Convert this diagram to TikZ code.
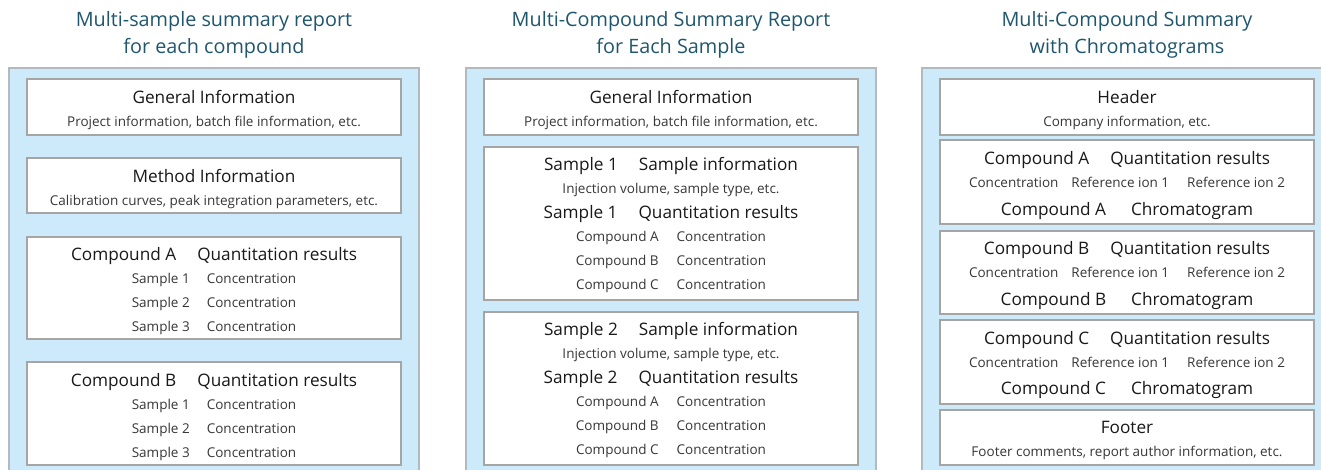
\documentclass[tikz,border=0pt]{standalone}
\usepackage{fontspec}
\setmainfont{Open Sans}
\definecolor{bluefill}{RGB}{205,234,250}
\definecolor{outerline}{RGB}{178,186,192}
\definecolor{innerline}{RGB}{165,165,165}
\definecolor{titlecol}{RGB}{31,86,110}
\definecolor{headcol}{RGB}{25,25,25}
\definecolor{subcol}{RGB}{55,55,55}
\begin{document}
\begin{tikzpicture}[x=1pt,y=-1pt,
  obox/.style={draw=outerline,fill=bluefill,line width=1.5pt,minimum width=410pt,minimum height=412pt,inner sep=0pt},
  ibox/.style={draw=innerline,fill=white,line width=1.2pt,minimum width=374pt,inner sep=0pt},
  txt/.style={inner sep=0pt,text height=0.72em,text depth=0pt,yshift=-2.5pt},
  ttl/.style={txt,text=titlecol,font=\fontsize{19.8}{22}\selectfont},
  head/.style={txt,text=headcol,font=\fontsize{17.2}{20}\selectfont},
  sub/.style={txt,text=subcol,font=\fontsize{13.5}{16}\selectfont}]
\useasboundingbox (0,0) rectangle (1321,469);
\clip (0,0) rectangle (1321,469);
% outer panels
\node[obox] (c1) at (214,274) {};
\node[obox] (c2) at (671,274) {};
\node[obox] (c3) at (1127,274) {};
% titles
\node[ttl] (t1a) at (214,20) {Multi-sample summary report};
\node[ttl] (t1b) at (214,47) {for each compound};
\node[ttl] (t2a) at (671,20) {Multi-Compound Summary Report};
\node[ttl] (t2b) at (671,47) {for Each Sample};
\node[ttl] (t3a) at (1127,20) {Multi-Compound Summary};
\node[ttl] (t3b) at (1127,47) {with Chromatograms};
% ---------- column 1
\node[ibox,minimum height=56pt] (a1) at (214,107) {};
\node[head] (a1h) at (214,97) {General Information};
\node[sub] (a1s) at (214,120) {Project information, batch file information, etc.};
\node[ibox,minimum height=55pt] (a2) at (214,185.5) {};
\node[head] (a2h) at (214,176) {Method Information};
\node[sub] (a2s) at (214,199) {Calibration curves, peak integration parameters, etc.};
\node[ibox,minimum height=102pt] (a3) at (214,288) {};
\node[head] (a3h) at (214,254) {Compound A\hspace{21pt}Quantitation results};
\node[sub] (a3s1) at (214,277) {Sample 1\hspace{17pt}Concentration};
\node[sub] (a3s2) at (214,301) {Sample 2\hspace{17pt}Concentration};
\node[sub] (a3s3) at (214,325) {Sample 3\hspace{17pt}Concentration};
\node[ibox,minimum height=103pt] (a4) at (214,413.5) {};
\node[head] (a4h) at (214,380) {Compound B\hspace{21pt}Quantitation results};
\node[sub] (a4s1) at (214,403) {Sample 1\hspace{17pt}Concentration};
\node[sub] (a4s2) at (214,427) {Sample 2\hspace{17pt}Concentration};
\node[sub] (a4s3) at (214,451) {Sample 3\hspace{17pt}Concentration};
% ---------- column 2
\node[ibox,minimum height=56pt] (b1) at (671,107) {};
\node[head] (b1h) at (671,97) {General Information};
\node[sub] (b1s) at (671,120) {Project information, batch file information, etc.};
\node[ibox,minimum height=153pt] (b2) at (671,223.5) {};
\node[head] (b2h) at (671,164) {Sample 1\hspace{21pt}Sample information};
\node[sub] (b2s) at (671,187) {Injection volume, sample type, etc.};
\node[head] (b2q) at (671,212) {Sample 1\hspace{21pt}Quantitation results};
\node[sub] (b2c1) at (671,235) {Compound A\hspace{18pt}Concentration};
\node[sub] (b2c2) at (671,259) {Compound B\hspace{18pt}Concentration};
\node[sub] (b2c3) at (671,283) {Compound C\hspace{18pt}Concentration};
\node[ibox,minimum height=153pt] (b3) at (671,388.5) {};
\node[head] (b3h) at (671,329) {Sample 2\hspace{21pt}Sample information};
\node[sub] (b3s) at (671,352) {Injection volume, sample type, etc.};
\node[head] (b3q) at (671,377) {Sample 2\hspace{21pt}Quantitation results};
\node[sub] (b3c1) at (671,400) {Compound A\hspace{18pt}Concentration};
\node[sub] (b3c2) at (671,424) {Compound B\hspace{18pt}Concentration};
\node[sub] (b3c3) at (671,448) {Compound C\hspace{18pt}Concentration};
% ---------- column 3
\node[ibox,minimum height=56pt] (d1) at (1127,107) {};
\node[head] (d1h) at (1127,97) {Header};
\node[sub] (d1s) at (1127,120) {Company information, etc.};
\node[ibox,minimum height=84pt] (d2) at (1127,182) {};
\node[head] (d2h) at (1127,158) {Compound A\hspace{21pt}Quantitation results};
\node[sub] (d2s) at (1127,181) {Concentration\hspace{13pt}Reference ion 1\hspace{18pt}Reference ion 2};
\node[head] (d2c) at (1127,209) {Compound A\hspace{25pt}Chromatogram};
\node[ibox,minimum height=83pt] (d3) at (1127,272.5) {};
\node[head] (d3h) at (1127,248) {Compound B\hspace{21pt}Quantitation results};
\node[sub] (d3s) at (1127,271) {Concentration\hspace{13pt}Reference ion 1\hspace{18pt}Reference ion 2};
\node[head] (d3c) at (1127,299) {Compound B\hspace{25pt}Chromatogram};
\node[ibox,minimum height=84pt] (d4) at (1127,362) {};
\node[head] (d4h) at (1127,338) {Compound C\hspace{21pt}Quantitation results};
\node[sub] (d4s) at (1127,361) {Concentration\hspace{13pt}Reference ion 1\hspace{18pt}Reference ion 2};
\node[head] (d4c) at (1127,388) {Compound C\hspace{25pt}Chromatogram};
\node[ibox,minimum height=55pt] (d5) at (1127,437.5) {};
\node[head] (d5h) at (1127,427) {Footer};
\node[sub] (d5s) at (1127,450) {Footer comments, report author information, etc.};
\end{tikzpicture}
\end{document}
